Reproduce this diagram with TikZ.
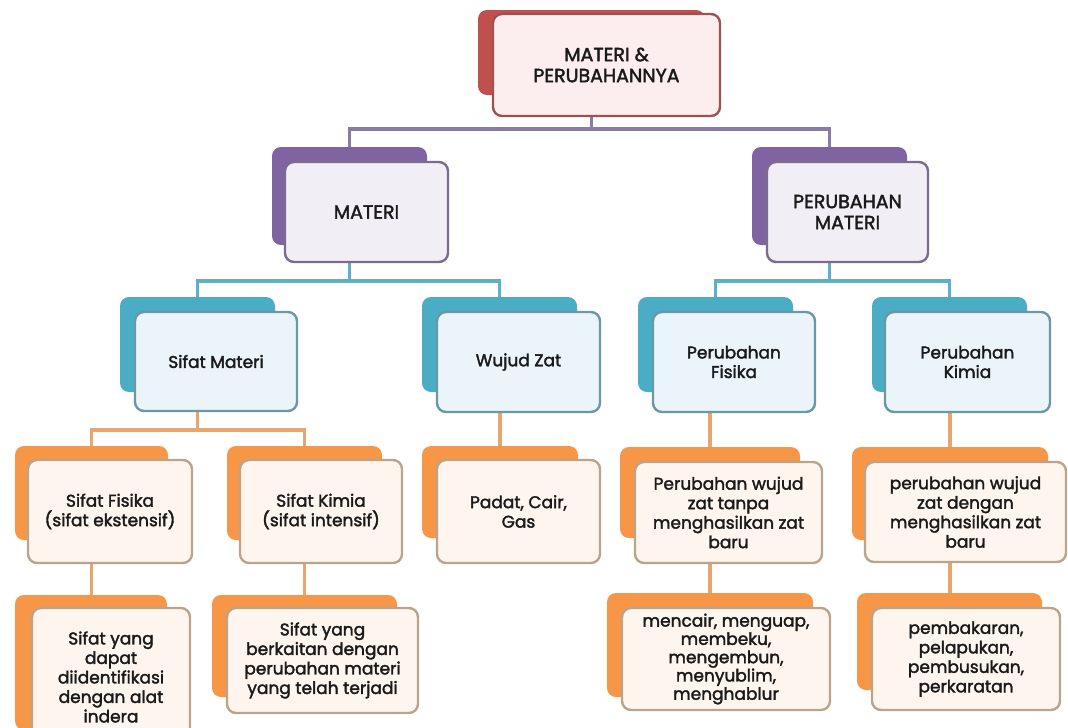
\documentclass[tikz,border=0pt]{standalone}
\usepackage{fontspec}
\setmainfont{Poppins}[FakeBold=2]
\usetikzlibrary{backgrounds}
\definecolor{redB}{HTML}{C0504D}
\definecolor{redF}{HTML}{FCEEEE}
\definecolor{redD}{HTML}{9A5252}
\definecolor{purB}{HTML}{8064A2}
\definecolor{purF}{HTML}{F1EEF6}
\definecolor{purD}{HTML}{7B6C8E}
\definecolor{purL}{HTML}{8A7AA6}
\definecolor{teaB}{HTML}{4BACC6}
\definecolor{teaF}{HTML}{EBF5F9}
\definecolor{teaD}{HTML}{6B98A3}
\definecolor{teaL}{HTML}{5FAFC8}
\definecolor{oraB}{HTML}{F79646}
\definecolor{oraF}{HTML}{FEF5EE}
\definecolor{oraD}{HTML}{B9A48C}
\definecolor{oraL}{HTML}{E8A56E}
\definecolor{txt}{HTML}{1A1A1A}
\tikzset{
  bk/.style={rounded corners=9pt, inner sep=0pt, draw=none},
  fr/.style={rounded corners=9pt, inner sep=0pt, line width=2.4pt, align=center, text=txt,
    font=\fontsize{17}{19.5}\selectfont},
  capf/.style={font=\fontsize{19}{21}\selectfont},
  tight/.style={font=\fontsize{17}{18.3}\selectfont},
  redbk/.style={bk, fill=redB}, redfr/.style={fr, fill=redF, draw=redD},
  purbk/.style={bk, fill=purB}, purfr/.style={fr, fill=purF, draw=purD},
  teabk/.style={bk, fill=teaB}, teafr/.style={fr, fill=teaF, draw=teaD},
  orabk/.style={bk, fill=oraB}, orafr/.style={fr, fill=oraF, draw=oraD},
  con/.style={line width=3.2pt},
  sz/.style 2 args={minimum width=#1pt, minimum height=#2pt}
}
\begin{document}
\begin{tikzpicture}[x=1pt, y=-1pt]
\useasboundingbox (0,0) rectangle (1068,728);
\clip (0,0) rectangle (1068,728);
% level 1
\node[redbk, sz={227}{85}] (tb) at (591.5,52.5) {};
\node[redfr, capf, sz={227}{102}] (tf) at (606.5,65) {MATERI \&\\PERUBAHANNYA};
% level 2
\node[purbk, sz={155}{98}] (mb) at (349.5,196) {};
\node[purfr, capf, sz={163}{100}] (mf) at (366.5,212) {MATERI};
\node[purbk, sz={155}{98}] (pmb) at (829.5,196) {};
\node[purfr, capf, sz={161}{100}] (pmf) at (847.5,212) {PERUBAHAN\\MATERI};
% level 3
\node[teabk, sz={155}{95}] (smb) at (197.5,344.5) {};
\node[teafr, sz={162}{99}] (smf) at (216,361.5) {Sifat Materi};
\node[teabk, sz={155}{95}] (wzb) at (499.5,344.5) {};
\node[teafr, sz={163}{100}] (wzf) at (518.5,362) {Wujud Zat};
\node[teabk, sz={155}{95}] (pfb) at (715.5,344.5) {};
\node[teafr, sz={162}{100}] (pff) at (734,362) {Perubahan\\Fisika};
\node[teabk, sz={155}{95}] (pkb) at (949.5,344.5) {};
\node[teafr, sz={165}{100}] (pkf) at (967.5,362) {Perubahan\\Kimia};
% level 4
\node[orabk, sz={153}{94}] (sfb) at (91.5,493) {};
\node[orafr, sz={164}{103}] (sff) at (110,511.5) {Sifat Fisika\\(sifat ekstensif)};
\node[orabk, sz={155}{94}] (skb) at (304.5,493) {};
\node[orafr, sz={162}{103}] (skf) at (321,511.5) {Sifat Kimia\\(sifat intensif)};
\node[orabk, sz={156}{92}] (pdb) at (500,492) {};
\node[orafr, sz={163}{103}] (pdf) at (518.5,511.5) {Padat, Cair,\\Gas};
\node[orabk, sz={180}{91}] (tpb) at (710,492.5) {};
\node[orafr, sz={187}{101}] (tpf) at (728.5,512.5) {Perubahan wujud\\zat tanpa\\menghasilkan zat\\baru};
\node[orabk, sz={196}{93}] (dgb) at (950,493.5) {};
\node[orafr, sz={201}{100}] (dgf) at (965.5,512) {perubahan wujud\\zat dengan\\menghasilkan zat\\baru};
% level 5
\node[orabk, sz={152}{135}] (dpb) at (91,662.5) {};
\node[orafr, sz={158}{138}] (dpf) at (111,677) {Sifat yang\\dapat\\diidentifikasi\\dengan alat\\indera};
\node[orabk, sz={185}{102}] (bkb) at (304.5,646) {};
\node[orafr, sz={191}{105}] (bkf) at (322.5,660.5) {Sifat yang\\berkaitan dengan\\perubahan materi\\yang telah terjadi};
\node[orabk, sz={206}{104}] (mcb) at (710,645) {};
\node[orafr, tight, sz={208}{102}] (mcf) at (726,659) {mencair, menguap,\\membeku,\\mengembun,\\menyublim,\\menghablur};
\node[orabk, sz={185}{97}] (pbb) at (949.5,641.5) {};
\node[orafr, sz={188}{102}] (pbf) at (966,659) {pembakaran,\\pelapukan,\\pembusukan,\\perkaratan};
% junction levels
\coordinate (h1) at (0,129);
\coordinate (h2) at (0,281);
\coordinate (h3) at (0,430);
\begin{scope}[on background layer]
  \fill[white] (0,0) rectangle (1068,728);
  \draw[con, purL] (tb.center) -- (tb.center |- h1);
  \draw[con, purL] (mb.north) -- (mb.north |- h1) -- (pmb.north |- h1) -- (pmb.north);
  \draw[con, teaL] (mb.center) -- (mb.center |- h2);
  \draw[con, teaL] (smb.north) -- (smb.north |- h2) -- (wzb.north |- h2) -- (wzb.north);
  \draw[con, teaL] (pmb.center) -- (pmb.center |- h2);
  \draw[con, teaL] (pfb.north) -- (pfb.north |- h2) -- (pkb.north |- h2) -- (pkb.north);
  \draw[con, oraL] (smb.center) -- (smb.center |- h3);
  \draw[con, oraL] (sfb.north) -- (sfb.north |- h3) -- (skb.north |- h3) -- (skb.north);
  \draw[con, oraL] (pdb.north |- wzb.center) -- (pdb.north);
  \draw[con, oraL] (tpb.north |- pfb.center) -- (tpb.north);
  \draw[con, oraL] (dgb.north |- pkb.center) -- (dgb.north);
  \draw[con, oraL] (sfb.center) -- (dpb.north -| sfb.center);
  \draw[con, oraL] (skb.center) -- (bkb.north);
  \draw[con, oraL] (tpb.center) -- (mcb.north);
  \draw[con, oraL] (dgb.center) -- (pbb.north -| dgb.center);
\end{scope}
\end{tikzpicture}
\end{document}
